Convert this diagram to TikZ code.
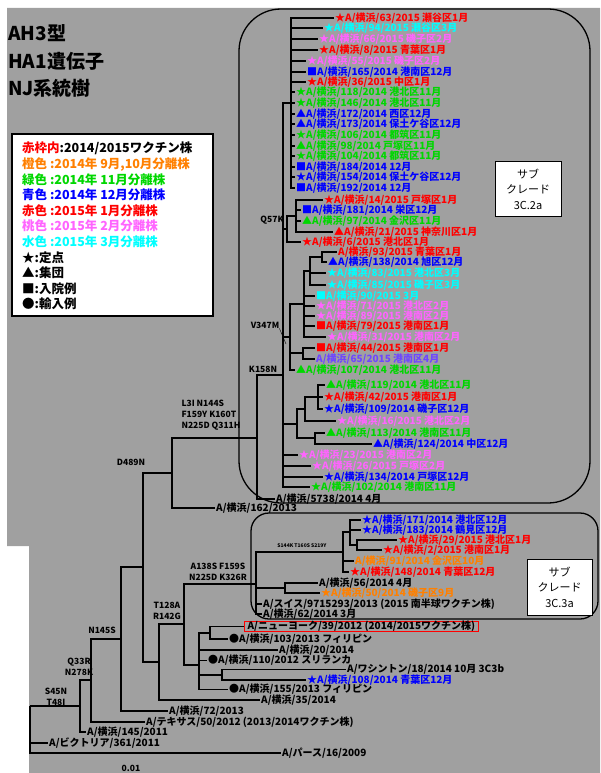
\documentclass[tikz,border=0pt]{standalone}
\usepackage{fontspec}
\setmainfont{Noto Sans CJK JP}
\usetikzlibrary{positioning}
\definecolor{bggray}{RGB}{160,160,160}
\definecolor{cRed}{RGB}{255,0,0}
\definecolor{cOrange}{RGB}{255,128,0}
\definecolor{cGreen}{RGB}{0,215,0}
\definecolor{cBlue}{RGB}{0,0,255}
\definecolor{cPink}{RGB}{255,100,255}
\definecolor{cCyan}{RGB}{0,255,255}
\definecolor{cViolet}{RGB}{110,70,255}
\tikzset{
    br/.style={line width=1.4pt, black},
    strain/.style={anchor=west, inner sep=1pt, font=\bfseries\fontsize{10}{10}\selectfont},
    mut/.style={align=center, inner sep=0pt, font=\bfseries\fontsize{8.5}{11}\selectfont},
    clade/.style={draw, fill=white, line width=1pt, align=center, minimum width=66pt, minimum height=55pt, font=\fontsize{11}{15.5}\selectfont},
    lgd/.style={anchor=north west, align=left, inner sep=0pt, font=\bfseries\fontsize{12.5}{15.6}\selectfont}
}

\begin{document}
\begin{tikzpicture}[x=1pt, y=-1pt]
  \useasboundingbox (0,0) rectangle (600,773);
  % background and frames
  \fill[bggray] (7,8) -- (600,8) -- (600,773) -- (29,773) -- (29,546) -- (7,546) -- cycle;
  \draw[line width=1.3pt, rounded corners=42pt] (239,9) rectangle (590,503);
  \draw[line width=1.3pt, rounded corners=18pt] (251,513) rectangle (598,619);

  % title and legend
  \node[anchor=west, align=left, inner sep=0pt, font=\bfseries\fontsize{19}{27.5}\selectfont] (title) at (8,61) {AH3型\\HA1遺伝子\\NJ系統樹};
  \node[draw, fill=white, line width=1.2pt, minimum width=201pt, minimum height=182pt] (legend) at (112.5,225) {};
  \node[lgd] (legendtxt) at (22,142) {\textcolor{cRed}{赤枠内}:2014/2015ワクチン株\\
    \textcolor{cOrange}{橙色 :2014年 9月,10月分離株}\\
    \textcolor{cGreen}{緑色 :2014年 11月分離株}\\
    \textcolor{cBlue}{青色 :2014年 12月分離株}\\
    \textcolor{cRed}{赤色 :2015年 1月分離株}\\
    \textcolor{cPink}{桃色 :2015年 2月分離株}\\
    \textcolor{cCyan}{水色 :2015年 3月分離株}\\
    ★:定点\\ ▲:集団\\ ■:入院例\\ ●:輸入例};

  \node[clade] (sub2a) at (528,189) {サブ\\クレード\\3C.2a};
  \node[clade, minimum width=65pt, minimum height=56pt] (sub3a) at (559.5,587) {サブ\\クレード\\3C.3a};

  % internal nodes
  \coordinate (root) at (30,706);
  \coordinate (n1) at (80,706);
  \coordinate (n2) at (91,680);
  \coordinate (n3) at (121,639);
  \coordinate (n4) at (143,567);
  \coordinate (nD) at (172,473);
  \coordinate (nL) at (257,438);
  \coordinate (nK) at (283,375);
  \coordinate (nT) at (291,103);
  \coordinate (nQ) at (287,229);
  \coordinate (nA) at (296,216);
  \coordinate (nV) at (290,337);
  \coordinate (nC) at (304,304);
  \coordinate (nB) at (310,271);
  \coordinate (nB1) at (322,257);
  \coordinate (nF) at (303,353);
  \coordinate (nG4) at (297,424);
  \coordinate (nG2) at (305,409);
  \coordinate (nG1) at (318,397);
  \coordinate (nG3) at (315,438);
  \coordinate (n5) at (159,662);
  \coordinate (nN) at (184,624);
  \coordinate (nH) at (256,584);
  \coordinate (nR) at (343,552);
  \coordinate (nS) at (350,532);
  \coordinate (nS2) at (357,545);
  \coordinate (nM) at (285,588);
  \coordinate (nW) at (199,665);
  \coordinate (nNY) at (210,633);
  \coordinate (nWa) at (222,675);

  % 3C.2a strains
  \node[strain, text=cRed] (s1) at (334,18) {★A/横浜/63/2015 瀬谷区1月};
  \node[strain, text=cCyan] (s2) at (323,28) {★A/横浜/94/2015 瀬谷区3月};
  \node[strain, text=cPink] (s3) at (318,39) {★A/横浜/66/2015 磯子区2月};
  \node[strain, text=cRed] (s4) at (318,50) {★A/横浜/8/2015 青葉区1月};
  \node[strain, text=cPink] (s5) at (306,61) {★A/横浜/55/2015 磯子区2月};
  \node[strain, text=cBlue] (s6) at (306,72) {■A/横浜/165/2014 港南区12月};
  \node[strain, text=cRed] (s7) at (306,82) {★A/横浜/36/2015 中区1月};
  \node[strain, text=cGreen] (s8) at (295,92) {★A/横浜/118/2014 港北区11月};
  \node[strain, text=cGreen] (s9) at (295,103) {★A/横浜/146/2014 港北区11月};
  \node[strain, text=cBlue] (s10) at (295,114) {▲A/横浜/172/2014 西区12月};
  \node[strain, text=cBlue] (s11) at (295,124) {▲A/横浜/173/2014 保土ケ谷区12月};
  \node[strain, text=cGreen] (s12) at (295,135) {★A/横浜/106/2014 都筑区11月};
  \node[strain, text=cGreen] (s13) at (295,146) {▲A/横浜/98/2014 戸塚区11月};
  \node[strain, text=cGreen] (s14) at (295,156) {★A/横浜/104/2014 都筑区11月};
  \node[strain, text=cBlue] (s15) at (295,167) {■A/横浜/184/2014 12月};
  \node[strain, text=cBlue] (s16) at (295,177) {★A/横浜/154/2014 保土ケ谷区12月};
  \node[strain, text=cBlue] (s17) at (295,188) {■A/横浜/192/2014 12月};
  \node[strain, text=cRed] (s18) at (323,200) {★A/横浜/14/2015 戸塚区1月};
  \node[strain, text=cBlue] (s19) at (301,210) {■A/横浜/181/2014 栄区12月};
  \node[strain, text=cGreen] (s20) at (301,221) {▲A/横浜/97/2014 金沢区11月};
  \node[strain, text=cRed] (s21) at (333,232) {▲A/横浜/21/2015 神奈川区1月};
  \node[strain, text=cRed] (s22) at (301,242) {★A/横浜/6/2015 港北区1月};
  \node[strain, text=cRed] (s23) at (337,252) {A/横浜/93/2015 青葉区1月};
  \node[strain, text=cBlue] (s24) at (327,262) {▲A/横浜/138/2014 旭区12月};
  \node[strain, text=cCyan] (s25) at (326,273) {★A/横浜/83/2015 港北区3月};
  \node[strain, text=cCyan] (s26) at (326,285) {★A/横浜/85/2015 磯子区3月};
  \node[strain, text=cCyan] (s27) at (315,296) {■A/横浜/90/2015 3月};
  \node[strain, text=cPink] (s28) at (315,306) {★A/横浜/71/2015 港北区2月};
  \node[strain, text=cPink] (s29) at (315,316) {★A/横浜/89/2015 港南区2月};
  \node[strain, text=cRed] (s30) at (315,326) {■A/横浜/79/2015 港南区1月};
  \node[strain, text=cPink] (s31) at (326,337) {★A/横浜/31/2015 港南区2月};
  \node[strain, text=cRed] (s32) at (315,348) {■A/横浜/44/2015 港南区1月};
  \node[strain, text=cViolet] (s33) at (315,359) {A/横浜/65/2015 港南区4月};
  \node[strain, text=cGreen] (s34) at (295,370) {▲A/横浜/107/2014 港北区11月};
  \node[strain, text=cGreen] (s35) at (325,385) {▲A/横浜/119/2014 港北区11月};
  \node[strain, text=cRed] (s36) at (323,397) {★A/横浜/42/2015 港南区1月};
  \node[strain, text=cBlue] (s37) at (323,409) {★A/横浜/109/2014 磯子区12月};
  \node[strain, text=cPink] (s38) at (336,421) {★A/横浜/16/2015 港北区2月};
  \node[strain, text=cGreen] (s39) at (325,433) {▲A/横浜/113/2014 港南区11月};
  \node[strain, text=cBlue] (s40) at (372,444) {▲A/横浜/124/2014 中区12月};
  \node[strain, text=cPink] (s41) at (298,455) {★A/横浜/23/2015 港南区2月};
  \node[strain, text=cPink] (s42) at (311,466) {★A/横浜/26/2015 戸塚区2月};
  \node[strain, text=cBlue] (s43) at (323,477) {★A/横浜/134/2014 戸塚区12月};
  \node[strain, text=cGreen] (s44) at (310,487) {★A/横浜/102/2014 港南区11月};
  \node[strain] (s45) at (275,499) {A/横浜/5738/2014 4月};
  \node[strain] (s46) at (215,508) {A/横浜/162/2013};

  % 3C.3a strains
  \node[strain, text=cBlue] (s47) at (361,520) {★A/横浜/171/2014 港北区12月};
  \node[strain, text=cBlue] (s48) at (361,530) {★A/横浜/183/2014 鶴見区12月};
  \node[strain, text=cRed] (s49) at (397,540) {★A/横浜/29/2015 港北区1月};
  \node[strain, text=cRed] (s50) at (382,550) {★A/横浜/2/2015 港南区1月};
  \node[strain, text=cOrange] (s51) at (354,561) {A/横浜/91/2014 金沢区10月};
  \node[strain, text=cRed] (s52) at (349,572) {★A/横浜/148/2014 青葉区12月};
  \node[strain] (s53) at (318,583) {A/横浜/56/2014 4月};
  \node[strain, text=cOrange] (s54) at (320,593) {★A/横浜/50/2014 磯子区9月};
  \node[strain] (s55) at (262,604) {A/スイス/9715293/2013 (2015 南半球ワクチン株)};
  \node[strain] (s56) at (262,614) {A/横浜/62/2014 3月};

  % older strains
  \node[strain, draw=cRed, line width=1.2pt, inner xsep=3pt, inner ysep=0pt] (s57) at (244,626.5) {A/ニューヨーク/39/2012 (2014/2015ワクチン株)};
  \node[strain] (s58) at (228,639) {●A/横浜/103/2013 フィリピン};
  \node[strain] (s59) at (278,650) {A/横浜/20/2014};
  \node[strain] (s60) at (207,660.5) {●A/横浜/110/2012 スリランカ};
  \node[strain] (s61) at (346,669.5) {A/ワシントン/18/2014 10月 3C3b};
  \node[strain, text=cBlue] (s62) at (306,680) {★A/横浜/108/2014 青葉区12月};
  \node[strain] (s63) at (228,689.5) {●A/横浜/155/2013 フィリピン};
  \node[strain] (s64) at (260,700) {A/横浜/35/2014};
  \node[strain] (s65) at (168,711) {A/横浜/72/2013};
  \node[strain] (s66) at (145,722) {A/テキサス/50/2012 (2013/2014ワクチン株)};
  \node[strain] (s67) at (86,732) {A/横浜/145/2011};
  \node[strain] (s68) at (48,743) {A/ビクトリア/361/2011};
  \node[strain] (s69) at (281,753) {A/パース/16/2009};

  % branches
  \draw[br]
    (root) |- (n1) (root) |- (s68.west) (root) |- (s69.west)
    (n1) |- (n2) (n1) |- (s67.west)
    (n2) |- (n3) (n2) |- (s66.west)
    (n3) |- (n4) (n3) |- (s65.west)
    (n4) |- (nD) (n4) |- (n5)
    (nD) |- (nL) (nD) |- (s46.west)
    (nL) |- (nK) (nL) |- (s45.west)
    (nK) |- (nT) (nK) |- (nQ) (nK) |- (nV) (nK) |- (nG4)
    (nK) |- (s41.west) (nK) |- (s42.west) (nK) |- (s43.west) (nK) |- (s44.west)
    (nT) |- (s1.west) (nT) |- (s2.west) (nT) |- (s3.west) (nT) |- (s4.west)
    (nT) |- (s5.west) (nT) |- (s6.west) (nT) |- (s7.west) (nT) |- (s8.west)
    (nT) |- (s9.west) (nT) |- (s10.west) (nT) |- (s11.west) (nT) |- (s12.west)
    (nT) |- (s13.west) (nT) |- (s14.west) (nT) |- (s15.west) (nT) |- (s16.west)
    (nT) |- (s17.west)
    (nQ) |- (nA) (nQ) |- (s22.west)
    (nA) |- (s18.west) (nA) |- (s19.west) (nA) |- (s20.west) (nA) |- (s21.west)
    (nV) |- (nC) (nV) |- (nF) (nV) |- (s34.west)
    (nC) |- (nB) (nC) |- (s27.west) (nC) |- (s28.west) (nC) |- (s29.west)
    (nC) |- (s30.west) (nC) |- (s31.west)
    (nB) |- (nB1) (nB) |- (s25.west) (nB) |- (s26.west)
    (nB1) |- (s23.west) (nB1) |- (s24.west)
    (nF) |- (s32.west) (nF) |- (s33.west)
    (nG4) |- (nG2) (nG4) |- (nG3)
    (nG2) |- (nG1) (nG2) |- (s38.west)
    (nG1) |- (s35.west) (nG1) |- (s36.west) (nG1) |- (s37.west)
    (nG3) |- (s39.west) (nG3) |- (s40.west)
    (n5) |- (nN) (n5) |- (s64.west)
    (nN) |- (nH) (nN) |- (nW)
    (nH) |- (nR) (nH) |- (nM) (nH) |- (s55.west) (nH) |- (s56.west)
    (nR) |- (nS) (nR) |- (s51.west) (nR) |- (s52.west)
    (nS) |- (s47.west) (nS) |- (s48.west) (nS) |- (nS2)
    (nS2) |- (s49.west) (nS2) |- (s50.west)
    (nM) |- (s53.west) (nM) |- (s54.west)
    (nW) |- (nNY) (nW) |- (s59.west) (nW) |- (s60.west) (nW) |- (nWa) (nW) |- (s63.west)
    (nNY) |- (s57.west) (nNY) |- (s58.west)
    (nWa) |- (s61.west) (nWa) |- (s62.west);

  % amino acid changes
  \node[mut] (m1) at (56,697) {S45N\\T48I};
  \node[mut] (m2) at (79,667) {Q33R\\N278K};
  \node[mut] (m3) at (102,630) {N145S};
  \node[mut] (m4) at (167,611) {T128A\\R142G};
  \node[mut] (m5) at (218,572) {A138S F159S\\N225D K326R};
  \node[mut, font=\bfseries\fontsize{5}{6}\selectfont] (m6) at (302,546) {S144K T160S S219Y};
  \node[mut] (m7) at (131,462) {D489N};
  \node[mut, align=left] (m8) at (211,415) {L3I N144S\\F159Y K160T\\N225D Q311H};
  \node[mut] (m9) at (263,369) {K158N};
  \node[mut] (m10) at (272,220) {Q57K};
  \node[mut] (m11) at (265,325) {V347M};
  \coordinate (vtip) at (286,344);
  \draw[thin] (m11.south east) -- (vtip);

  % scale
  \node[mut] (scale) at (131,768) {0.01};
\end{tikzpicture}
\end{document}
